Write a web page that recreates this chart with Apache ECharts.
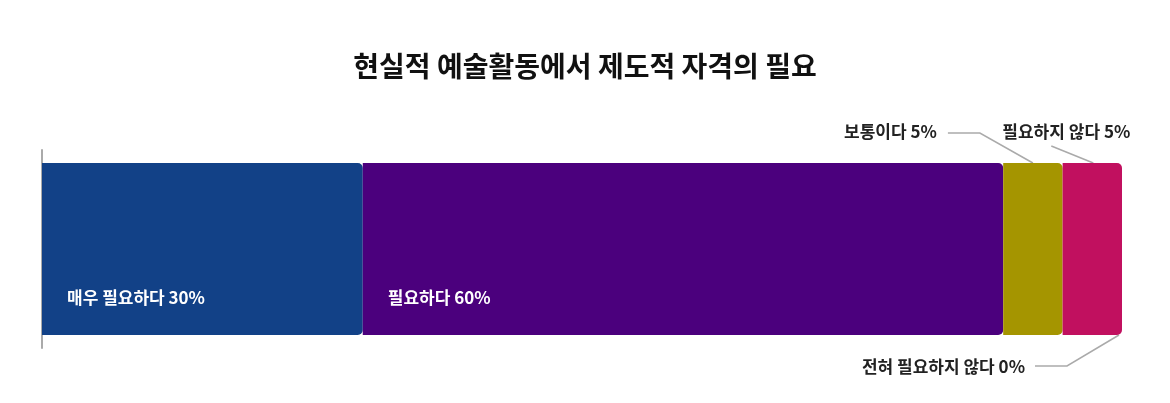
<!DOCTYPE html>
<html><head><meta charset="utf-8">
<script src="https://cdn.jsdelivr.net/npm/echarts@6/dist/echarts.min.js"></script>
<style>html,body{margin:0;padding:0;background:#fff}#c{width:1170px;height:403px}</style>
</head><body><div id="c"></div>
<script>
const chartTitle = '현실적 예술활동에서 제도적 자격의 필요';
const categories = ['매우 필요하다', '필요하다', '보통이다', '필요하지 않다', '전혀 필요하지 않다'];
const values = [29.7, 59.3, 5.5, 5.5, 0];
const pctLabels = ['30%', '60%', '5%', '5%', '0%'];
const colors = ['#124187', '#4b007d', '#a59500', '#c1105f', '#999999'];

const FONT = '"Noto Sans CJK KR", "Noto Sans", sans-serif';
const BAR_W = 172;
const total = values.reduce((a, b) => a + b, 0);
const chart = echarts.init(document.getElementById('c'), null, {renderer: 'canvas'});

const series = categories.map((name, i) => ({
  name: name,
  type: 'bar',
  stack: 'all',
  barWidth: BAR_W,
  data: [values[i]],
  itemStyle: {color: colors[i], borderRadius: [0, 5, 5, 0]},
  label: {
    show: i < 2,
    position: 'insideBottomLeft',
    distance: 0,
    offset: [25, -29],
    formatter: name + ' ' + pctLabels[i],
    color: '#fff',
    fontFamily: FONT,
    fontSize: 17,
    fontWeight: 'bold'
  },
  emphasis: {disabled: true},
  animation: false
}));

chart.setOption({
  animation: false,
  title: {
    text: chartTitle, left: 'center', top: 47,
    textStyle: {fontFamily: FONT, fontSize: 28, fontWeight: 'bold', color: '#111'}
  },
  grid: {left: 42, right: 48, top: 150, bottom: 55},
  xAxis: {type: 'value', min: 0, max: total, show: false},
  yAxis: {
    type: 'category', data: [''],
    axisLine: {show: true, lineStyle: {color: '#aaaaaa', width: 2}},
    axisTick: {show: false}, axisLabel: {show: false}, splitLine: {show: false}
  },
  series: series
});

// callouts anchored via the chart's own scales
const cum = [];
let acc = 0;
values.forEach(v => { cum.push(acc); acc += v; });
const px = v => chart.convertToPixel({gridIndex: 0}, [v, 0]);
const cy = px(0)[1];
const barTop = cy - BAR_W / 2, barBottom = cy + BAR_W / 2;
const lineStyle = {stroke: '#aaaaaa', lineWidth: 1.5, fill: null};
const txt = (x, y, text, align) => ({
  type: 'text', x: x, y: y, silent: true,
  style: {text: text, fill: '#222', font: 'bold 17px ' + FONT, textAlign: align, textVerticalAlign: 'middle'}
});

const ax = px(cum[2] + values[2] / 2)[0];
const bx = px(cum[3] + values[3] / 2)[0];
const zx = px(cum[4] + values[4] / 2)[0] - 3;

chart.setOption({
  graphic: [
    {type: 'polyline', silent: true, shape: {points: [[ax - 85, barTop - 30], [ax - 53, barTop - 30], [ax, barTop]]}, style: lineStyle},
    txt(ax - 96, barTop - 31, categories[2] + ' ' + pctLabels[2], 'right'),
    {type: 'polyline', silent: true, shape: {points: [[bx - 41, barTop - 17], [bx + 1, barTop]]}, style: lineStyle},
    txt(bx - 26, barTop - 31, categories[3] + ' ' + pctLabels[3], 'center'),
    {type: 'polyline', silent: true, shape: {points: [[zx - 84, barBottom + 31], [zx - 52, barBottom + 31], [zx, barBottom]]}, style: lineStyle},
    txt(zx - 94, barBottom + 32, categories[4] + ' ' + pctLabels[4], 'right')
  ]
});
</script>
</body></html>
